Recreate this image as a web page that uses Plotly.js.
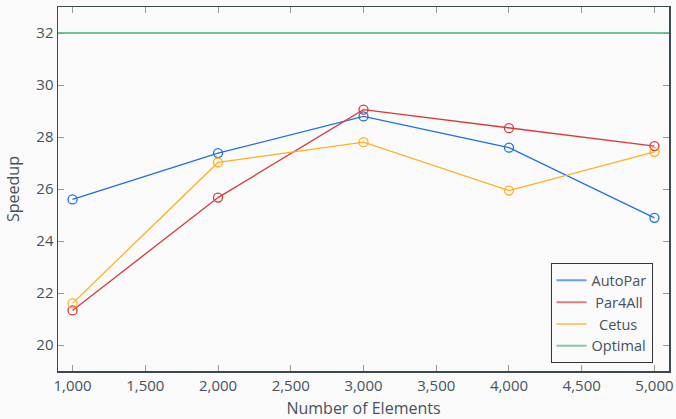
<!DOCTYPE html>
<html>
<head>
<meta charset="utf-8">
<script src="https://cdn.plot.ly/plotly-3.0.1.min.js"></script>
<style>html,body{margin:0;padding:0;background:#fafafa;}#chart{width:676px;height:419px;}</style>
</head>
<body>
<div id="chart"></div>
<script>
const elements = [1000, 2000, 3000, 4000, 5000];
const autoPar = [25.6, 27.38, 28.79, 27.59, 24.89];
const par4All = [21.33, 25.67, 29.05, 28.34, 27.65];
const cetus = [21.6, 27.02, 27.8, 25.94, 27.43];
const optimal = [32, 32, 32, 32, 32];
const seriesNames = ['AutoPar', '\u00a0Par4All', '\u00a0\u00a0Cetus', 'Optimal'];
const colors = ['#2070e0', '#d83a3a', '#ffb020', '#3cb371'];

const ys = [autoPar, par4All, cetus];
const traces = ys.map((y, i) => ({
  x: elements, y: y, name: seriesNames[i], type: 'scatter', mode: 'lines+markers',
  showlegend: false,
  line: {color: colors[i], width: 1.3},
  marker: {symbol: 'circle-open', size: 9, color: colors[i], line: {width: 1.3}}
}));
traces.push({
  x: [900, 5100], y: [optimal[0], optimal[optimal.length - 1]], name: seriesNames[3],
  type: 'scatter', mode: 'lines', showlegend: false, line: {color: colors[3], width: 1.5}
});
// legend entries (line-only samples)
seriesNames.forEach((n, i) => traces.push({
  x: [null], y: [null], name: n, type: 'scatter', mode: 'lines', opacity: 0.65,
  line: {color: colors[i], width: 2}
}));

const fontColor = '#46525a';
const layout = {
  width: 676, height: 419,
  paper_bgcolor: '#fafafa', plot_bgcolor: '#fafafa',
  margin: {l: 58, r: 7, t: 7, b: 48},
  font: {family: 'Open Sans, sans-serif', size: 15, color: fontColor},
  showlegend: true,
  legend: {
    x: 0.973, y: 0.021, xanchor: 'right', yanchor: 'bottom',
    bgcolor: '#fafafa', bordercolor: '#333', borderwidth: 1,
    font: {size: 14.5, color: fontColor}, itemwidth: 30, tracegroupgap: 0
  },
  xaxis: {
    range: [900, 5100], tickvals: [1000,1500,2000,2500,3000,3500,4000,4500,5000],
    tickformat: ',d', showgrid: false, zeroline: false,
    showline: true, linecolor: '#3c4a50', linewidth: 1.5, mirror: 'ticks',
    ticks: 'inside', ticklen: 6, tickcolor: '#999', tickwidth: 1,
    tickfont: {size: 15, color: fontColor},
    title: {text: 'Number of Elements', font: {size: 16, color: fontColor}, standoff: 11}
  },
  yaxis: {
    range: [19, 33], tickvals: [20,22,24,26,28,30,32],
    showgrid: false, zeroline: false,
    showline: true, linecolor: '#3c4a50', linewidth: 1.5, mirror: 'ticks',
    ticks: 'inside', ticklen: 6, tickcolor: '#999', tickwidth: 1,
    tickfont: {size: 15, color: fontColor},
    title: {text: 'Speedup', font: {size: 16, color: fontColor}, standoff: 12}
  }
};
Plotly.newPlot('chart', traces, layout, {displayModeBar: false, staticPlot: true});
</script>
</body>
</html>
